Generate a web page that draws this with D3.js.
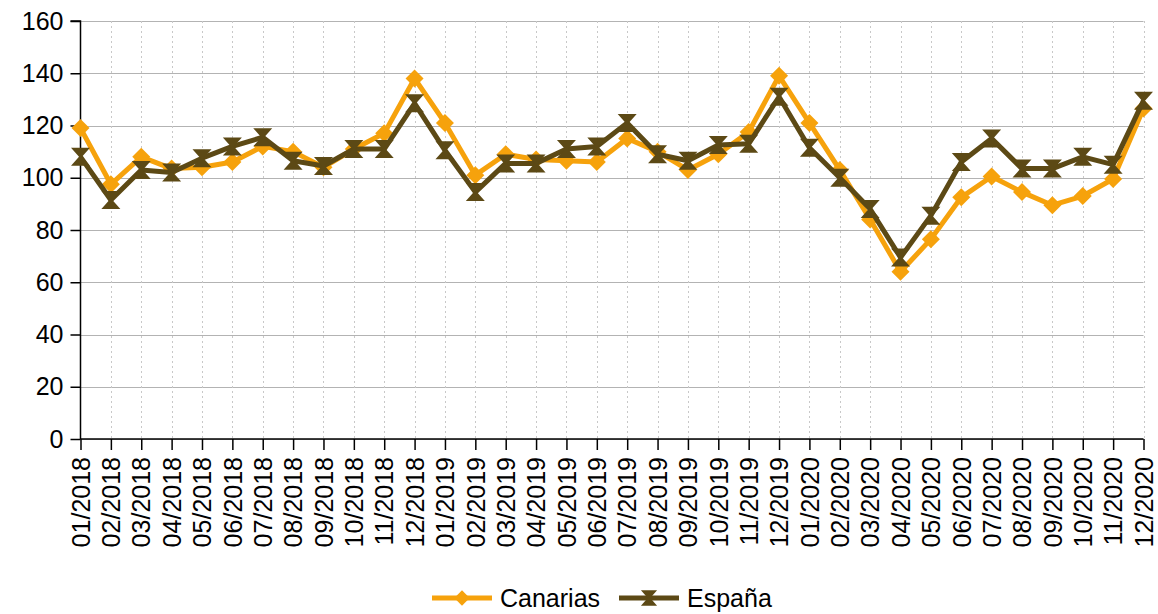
<!DOCTYPE html>
<html><head><meta charset="utf-8">
<script src="https://cdn.jsdelivr.net/npm/d3@7"></script>
<style>
html,body{margin:0;padding:0;background:#fff;}
svg{display:block;font-family:"Liberation Sans",Arial,sans-serif;}
</style></head>
<body>
<svg id="chart" width="1158" height="614"></svg>
<script>
const categories = ["01/2018","02/2018","03/2018","04/2018","05/2018","06/2018","07/2018","08/2018","09/2018","10/2018","11/2018","12/2018",
"01/2019","02/2019","03/2019","04/2019","05/2019","06/2019","07/2019","08/2019","09/2019","10/2019","11/2019","12/2019",
"01/2020","02/2020","03/2020","04/2020","05/2020","06/2020","07/2020","08/2020","09/2020","10/2020","11/2020","12/2020"];
const canarias = [119,97.5,108,103.5,104,106,112,110,104,111,117,138,
121,101,109,107,106.5,106,115,110,103,109,117.5,139,
121,103,84,64,76.5,92.5,100.5,94.5,89.5,93,99.5,126.5];
const espana = [108,91.5,103,102,107.5,112,115.5,106.5,104.5,111,111,128.5,
110.5,94.5,105.5,105.5,111,112,121,109,106.5,112.5,113,131,
111.5,100,88,69.5,85.5,106,115,103.5,103.5,108,105,129.5];
const yTicks = [0,20,40,60,80,100,120,140,160];
const seriesNames = ["Canarias","España"];
const colors = {"Canarias":"#f6a20c","España":"#5c4915"};

const svg = d3.select("#chart");
const mLeft = 80.5, mRight = 1143.5, mTop = 21, mBottom = 439;
const FS = 25;
const x = d3.scalePoint().domain(categories).range([mLeft, mRight]);
const y = d3.scaleLinear().domain([0,160]).range([mBottom, mTop]);

// horizontal grid
svg.append("g").selectAll("line").data(yTicks).join("line")
  .attr("x1", mLeft).attr("x2", mRight)
  .attr("y1", d=>Math.round(y(d))+0.5).attr("y2", d=>Math.round(y(d))+0.5)
  .attr("stroke","#b3b3b3").attr("stroke-width",1);
// vertical dotted grid
svg.append("g").selectAll("line").data(categories.slice(1)).join("line")
  .attr("x1", d=>Math.round(x(d))+0.5).attr("x2", d=>Math.round(x(d))+0.5)
  .attr("y1", mTop).attr("y2", mBottom)
  .attr("stroke","#c8c8c8").attr("stroke-width",1).attr("stroke-dasharray","2,3");

// y axis
const yAxis = d3.axisLeft(y).tickValues(yTicks).tickSize(10).tickPadding(7);
const gy = svg.append("g").attr("transform",`translate(${mLeft},0)`).call(yAxis);
gy.select(".domain").attr("stroke","#000").attr("stroke-width",1.5).attr("d",`M-10,${mTop}H0V${mBottom}`);
gy.selectAll(".tick line").attr("stroke","#000").attr("stroke-width",1.5);
gy.selectAll(".tick text").attr("font-size",FS).attr("fill","#000")
  .attr("font-family","Liberation Sans, Arial, sans-serif");

// x axis
const xAxis = d3.axisBottom(x).tickSize(11).tickPadding(0);
const gx = svg.append("g").attr("transform",`translate(0,${mBottom})`).call(xAxis);
gx.select(".domain").attr("stroke","#000").attr("stroke-width",1.5).attr("d",`M${mLeft},0H${mRight}`);
gx.selectAll(".tick line").attr("stroke","#000").attr("stroke-width",1.5);
gx.selectAll(".tick text")
  .attr("font-size",FS).attr("fill","#000")
  .attr("font-family","Liberation Sans, Arial, sans-serif")
  .attr("text-anchor","end")
  .attr("transform","translate(0,18) rotate(-90)")
  .attr("x",0).attr("y",0).attr("dy","0.35em");

const line = d3.line().x((d,i)=>x(categories[i])).y(d=>y(d));
const diamond = "M0,-9L9,0L0,9L-9,0Z";
const hourglass = "M-9.5,-9L9.5,-9L1.5,0L9.5,9L-9.5,9L-1.5,0Z";

function drawSeries(vals, name, sym){
  const g = svg.append("g");
  g.append("path").datum(vals).attr("d",line)
    .attr("fill","none").attr("stroke",colors[name]).attr("stroke-width",5)
    .attr("stroke-linejoin","round");
  g.selectAll("path.m").data(vals).join("path").attr("class","m")
    .attr("d",sym).attr("fill",colors[name])
    .attr("transform",(d,i)=>`translate(${x(categories[i])},${y(d)})`);
}
drawSeries(canarias,"Canarias",diamond);
drawSeries(espana,"España",hourglass);

// legend
const legendItems = [
  {name:seriesNames[0], x1:432, x2:492, tx:500, sym:diamond},
  {name:seriesNames[1], x1:619, x2:679, tx:687, sym:hourglass}
];
const lg = svg.append("g");
legendItems.forEach(it=>{
  const ly = 598;
  lg.append("line").attr("x1",it.x1).attr("x2",it.x2).attr("y1",ly).attr("y2",ly)
    .attr("stroke",colors[it.name]).attr("stroke-width",5);
  lg.append("path").attr("d",it.sym).attr("fill",colors[it.name])
    .attr("transform",`translate(${(it.x1+it.x2)/2},${ly}) scale(0.85)`);
  lg.append("text").attr("x",it.tx).attr("y",ly).attr("dy","0.35em")
    .attr("font-size",FS).attr("fill","#000").text(it.name);
});
</script>
</body></html>
